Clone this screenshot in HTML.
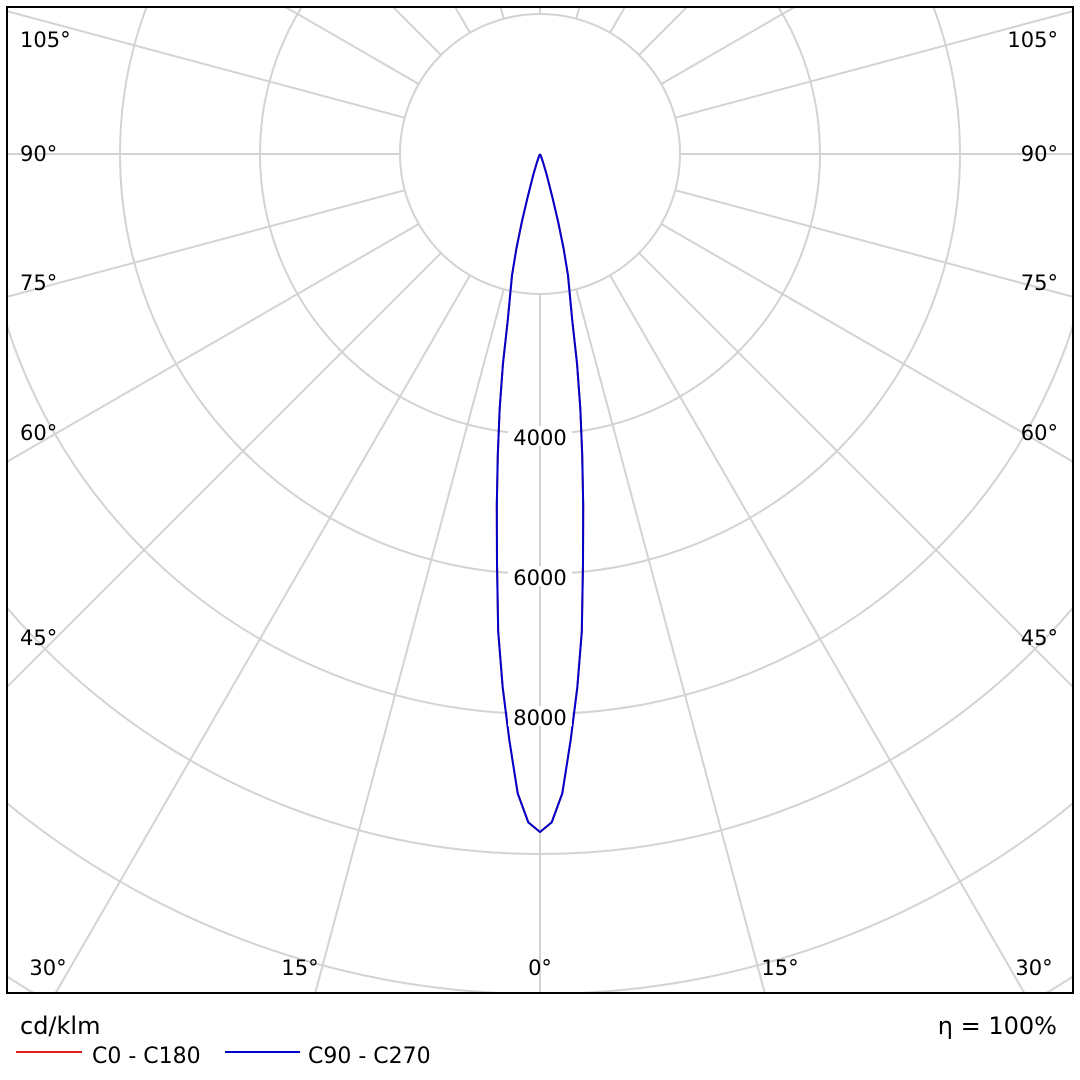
<!DOCTYPE html>
<html><head><meta charset="utf-8"><style>
html,body{margin:0;padding:0;background:#fff;overflow:hidden}
svg{display:block}
svg text{font-family:"DejaVu Sans","Liberation Sans",sans-serif}
</style></head><body>
<svg id="chart" width="1080" height="1080" viewBox="0 0 1080 1080" xmlns="http://www.w3.org/2000/svg">
<defs><clipPath id="clip"><rect x="7" y="7" width="1066" height="986"/></clipPath></defs>
<rect x="0" y="0" width="1080" height="1080" fill="#fff"/>
<g id="grid" clip-path="url(#clip)"></g>
<g id="curves" clip-path="url(#clip)"></g>
<g id="labels"></g>
<rect x="7" y="7" width="1066" height="986" fill="none" stroke="#000" stroke-width="2"/>
<text x="20" y="1034" font-size="24">cd/klm</text>
<text x="1057" y="1034" font-size="24" text-anchor="end">η = 100%</text>
<line x1="16" y1="1052" x2="82" y2="1052" stroke="#e02020" stroke-width="2"/>
<text x="92" y="1063" font-size="22">C0 - C180</text>
<line x1="225" y1="1052" x2="300" y2="1052" stroke="#0000cc" stroke-width="2"/>
<text x="308" y="1063" font-size="22">C90 - C270</text>
</svg>
<script>
const angles = [0,1,2,3,4,5,6,7,8,9,10,11,12,13,14,15,16,18,20,25,30,90];
const c0Values = [9686,9550,9140,8380,7640,6850,5880,5060,4330,3680,3050,2400,2050,1780,1400,1000,650,300,120,30,0,0];
const c90Values = [9686,9550,9140,8380,7640,6850,5880,5060,4330,3680,3050,2400,2050,1780,1400,1000,650,300,120,30,0,0];
const ringValues = [2000,4000,6000,8000,10000,12000,14000,16000];
const ringLabels = ["4000","6000","8000"];
const cx = 540, cy = 154, scale = 0.07;
const NS = "http://www.w3.org/2000/svg";
function r(v){return v*scale;}
function pt(angleDeg, v, side){const a=angleDeg*Math.PI/180;return [cx+side*r(v)*Math.sin(a), cy+r(v)*Math.cos(a)];}
const grid=document.getElementById('grid');
ringValues.forEach(v=>{
  const c=document.createElementNS(NS,'circle');
  c.setAttribute('cx',cx);c.setAttribute('cy',cy);c.setAttribute('r',r(v));
  c.setAttribute('fill','none');c.setAttribute('stroke','#d3d3d3');c.setAttribute('stroke-width','2');
  
  
  grid.appendChild(c);
});
for(let a=0;a<360;a+=15){
  const t=a*Math.PI/180, r0=r(ringValues[0]), r1=1600;
  const l=document.createElementNS(NS,'line');
  l.setAttribute('x1',cx+r0*Math.sin(t));l.setAttribute('y1',cy+r0*Math.cos(t));
  l.setAttribute('x2',cx+r1*Math.sin(t));l.setAttribute('y2',cy+r1*Math.cos(t));
  l.setAttribute('stroke','#d3d3d3');l.setAttribute('stroke-width','2');
  
  
  grid.appendChild(l);
}
function curve(vals,color,name){
  const pts=[];
  for(let i=angles.length-1;i>=0;i--)pts.push(pt(angles[i],vals[i],-1));
  for(let i=1;i<angles.length;i++)pts.push(pt(angles[i],vals[i],1));
  const p=document.createElementNS(NS,'polyline');
  p.setAttribute('points',pts.map(q=>q[0].toFixed(1)+','+q[1].toFixed(1)).join(' '));
  p.setAttribute('fill','none');p.setAttribute('stroke',color);p.setAttribute('stroke-width','2');
  p.setAttribute('stroke-linejoin','round');
  
  
  document.getElementById('curves').appendChild(p);
}
curve(c0Values,'#e02020','curve-c0-c180');
curve(c90Values,'#0000cc','curve-c90-c270');
const lab=document.getElementById('labels');
function txt(x,y,s,anchor,name){
  const t=document.createElementNS(NS,'text');
  t.setAttribute('x',x);t.setAttribute('y',y);t.setAttribute('font-size','21');
  t.setAttribute('text-anchor',anchor);t.textContent=s;
  
  
  lab.appendChild(t);
}
ringLabels.forEach((s,i)=>{
  const y=cy+r(ringValues[i+1]);
  const bg=document.createElementNS(NS,'rect');
  bg.setAttribute('x',cx-32);bg.setAttribute('y',y-8);bg.setAttribute('width',64);bg.setAttribute('height',20);bg.setAttribute('fill','#fff');
  
  
  lab.appendChild(bg);
  txt(cx,y+11,s,'middle','ring-label');
});
const sideLabels=[["105°",47],["90°",161],["75°",290],["60°",440],["45°",645]];
sideLabels.forEach(s=>{txt(20,s[1],s[0],'start','angle-label-left');txt(1058,s[1],s[0],'end','angle-label-right');});
[["30°",48],["15°",300],["0°",540],["15°",780],["30°",1034]].forEach(s=>txt(s[1],975,s[0],'middle','angle-label-bottom'));
</script>
</body></html>
